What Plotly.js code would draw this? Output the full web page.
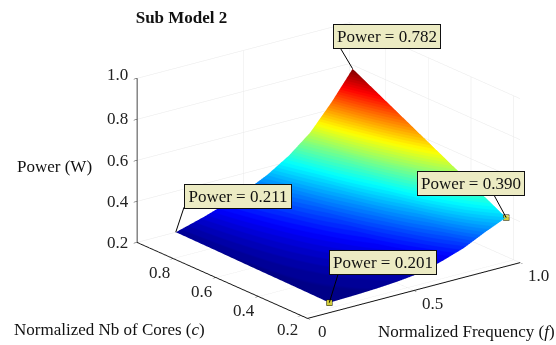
<!DOCTYPE html>
<html><head><meta charset="utf-8">
<script src="https://cdn.plot.ly/plotly-3.0.1.min.js"></script>
<style>html,body{margin:0;padding:0;background:#fff}#c{width:556px;height:345px}</style>
</head><body><div id="c"></div>
<script>
const freqValues = [0.168,0.30,0.40,0.50,0.60,0.70,0.80,0.90,1.00];
const coreValues = [0.235,0.415,0.595,0.775,0.955];
const powerRows = [
 [0.201,0.205,0.210,0.218,0.230,0.260,0.295,0.345,0.390],
 [0.204,0.216,0.229,0.245,0.266,0.305,0.352,0.419,0.488],
 [0.206,0.228,0.248,0.272,0.302,0.350,0.410,0.495,0.586],
 [0.209,0.239,0.266,0.298,0.339,0.395,0.468,0.570,0.684],
 [0.211,0.250,0.285,0.325,0.375,0.440,0.525,0.645,0.782]
];
const freqTicks = [0,0.5,1], freqTickText = ['0','0.5','1.0'];
const coreTicks = [0.2,0.4,0.6,0.8], coreTickText = ['0.2','0.4','0.6','0.8'];
const powerTicks = [0.2,0.4,0.6,0.8,1.0], powerTickText = ['0.2','0.4','0.6','0.8','1.0'];
const tipF = [0.168,0.168,1.00,1.00];
const tipC = [0.955,0.235,0.235,0.955];
const tipP = [0.211,0.201,0.390,0.782];
const markF = [0.168,1.00], markC = [0.235,0.235], markP = [0.201,0.390];

const serif = '"Liberation Serif","Times New Roman",serif';
function jetAt(t){
  const ch = v => Math.round(255*Math.max(0,Math.min(1,1.5-Math.abs(4*t-v))));
  return 'rgb('+ch(3)+','+ch(2)+','+ch(1)+')';
}
const N = 64, scale = [];
for(let i=0;i<N;i++){ const col = jetAt((i+0.5)/N); scale.push([i/N,col]); scale.push([(i+1)/N,col]); }

const tipStyle = {
  box: [[62,36],[54,40],[-35.5,34.5],[34.5,32.5]],
  lead: [[11.3,-34],[12,-39],[-18.4,-34],[-19,-32]]
};
const sceneAnn = [];
tipP.forEach((p,i)=>{
  sceneAnn.push({x:tipF[i],y:tipC[i],z:p,text:' ',showarrow:true,arrowhead:0,arrowwidth:1,arrowcolor:'#000',
    ax:tipStyle.lead[i][0],ay:tipStyle.lead[i][1],standoff:0});
});
tipP.forEach((p,i)=>{
  sceneAnn.push({x:tipF[i],y:tipC[i],z:p,text:'Power = '+p.toFixed(3),showarrow:false,width:102,
    xshift:tipStyle.box[i][0],yshift:tipStyle.box[i][1],
    bgcolor:'#ecebc3',bordercolor:'#111',borderwidth:1,borderpad:2,
    font:{family:serif,size:17,color:'#111'}});
});
const tickFont = {family:serif,size:17,color:'#222'};
const powerLabelLift = [0,0,0,1,4];
const freqLabelShift = [15,19,18];
powerTicks.forEach((v,i)=>sceneAnn.push({x:0,y:0.97,z:v,text:powerTickText[i],showarrow:false,xshift:-19,yshift:powerLabelLift[i],font:tickFont}));
coreTicks.forEach((v,i)=>sceneAnn.push({x:0,y:v,z:0.2,text:coreTickText[i],showarrow:false,xshift:-14,yshift:-14,font:tickFont}));
freqTicks.forEach((v,i)=>sceneAnn.push({x:v,y:0.17,z:0.2,text:freqTickText[i],showarrow:false,xshift:freqLabelShift[i],yshift:-13,font:tickFont}));

const axisBase = {showbackground:false,showspikes:false,gridcolor:'#e8e8e8',gridwidth:1,zeroline:false,
  showline:true,linecolor:'#111',linewidth:2,ticks:'outside',ticklen:4,tickcolor:'#333',
  showticklabels:false,title:{text:''},tickmode:'array'};

const data = [
 {type:'surface',x:freqValues,y:coreValues,z:powerRows,cmin:0.2,cmax:0.782,colorscale:scale,showscale:false,
  lighting:{ambient:1,diffuse:0,specular:0,roughness:1,fresnel:0},hoverinfo:'skip'},
 {type:'scatter3d',mode:'markers',x:markF,y:markC,z:markP,hoverinfo:'skip',
  marker:{symbol:'square',size:3,color:'#d2cc3a',line:{color:'#111',width:1}}}
];
const layout = {
  width:556,height:345,paper_bgcolor:'#fff',margin:{l:0,r:0,t:0,b:0},showlegend:false,
  title:{text:'<b>Sub Model 2</b>',x:181.5/556,xanchor:'center',y:1-17/345,yanchor:'middle',font:{family:serif,size:17,color:'#111'}},
  scene:{
    domain:{x:[0.1832,0.9982],y:[0.0145,0.9971]},
    aspectmode:'manual',aspectratio:{x:1.58,y:1.653,z:1.03},
    camera:{projection:{type:'orthographic'},up:{x:0,y:0,z:1},center:{x:0,y:0,z:0},
      eye:{x:-0.572,y:-0.7455,z:0.342}},
    xaxis:Object.assign({},axisBase,{range:[0,1],tickvals:freqTicks,ticktext:freqTickText}),
    yaxis:Object.assign({},axisBase,{range:[0.17,0.97],tickvals:coreTicks,ticktext:coreTickText}),
    zaxis:Object.assign({},axisBase,{range:[0.2,1.0],tickvals:powerTicks,ticktext:powerTickText}),
    annotations:sceneAnn
  },
  annotations:[
   {xref:'paper',yref:'paper',x:15/556,y:1-166/345,xanchor:'left',yanchor:'middle',showarrow:false,text:'Power (W)',font:{family:serif,size:17,color:'#111'}},
   {xref:'paper',yref:'paper',x:12/556,y:1-329/345,xanchor:'left',yanchor:'middle',showarrow:false,text:'Normalized Nb of Cores (<i>c</i>)',font:{family:serif,size:17,color:'#111'}},
   {xref:'paper',yref:'paper',x:376/556,y:1-331/345,xanchor:'left',yanchor:'middle',showarrow:false,text:'Normalized Frequency (<i>f</i>)',font:{family:serif,size:17,color:'#111'}}
  ]
};
Plotly.newPlot('c',data,layout,{displayModeBar:false});
</script></body></html>
